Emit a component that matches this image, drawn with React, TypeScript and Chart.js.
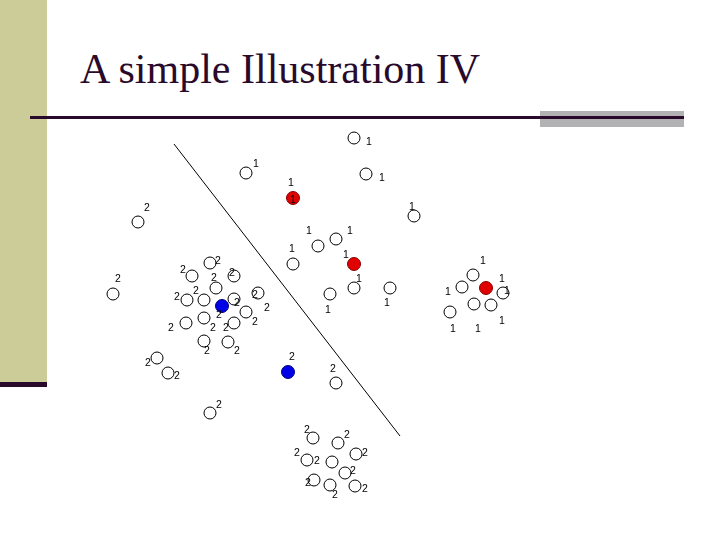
import React, { useEffect, useRef } from "react";
import { Chart, registerables } from "chart.js";

Chart.register(...registerables);

const titleText = "A simple Illustration IV";

// Open circles, class "1"
const class1Points: number[][] = [
  [354, 138], [246, 173], [366, 174], [414, 216], [318, 246], [336, 239],
  [293, 264], [354, 288], [330, 294], [390, 288], [473, 275], [462, 287],
  [503, 293], [474, 304], [491, 305], [450, 312],
];

// Open circles, class "2"
const class2Points: number[][] = [
  [138, 222], [113, 294], [210, 263], [192, 276], [234, 276], [216, 288],
  [187, 300], [204, 300], [234, 299], [258, 293], [246, 312], [186, 323],
  [204, 318], [234, 323], [204, 341], [228, 342], [157, 358], [168, 373],
  [336, 383], [210, 413], [313, 438], [338, 443], [307, 460], [332, 462],
  [356, 454], [345, 473], [314, 480], [330, 485], [355, 486],
];

// Cluster centres
const redCentres: number[][] = [[293, 198], [354, 264], [486, 288]];
const blueCentres: number[][] = [[222, 306], [288, 372]];

// Separating line
const separatorLine: number[][] = [[174, 144], [400, 436]];

// Label positions
const class1Labels: number[][] = [
  [369, 142], [256, 164], [382, 178], [291, 183], [293, 200], [412, 207],
  [309, 231], [350, 231], [292, 249], [346, 255], [359, 279], [328, 310],
  [387, 303], [483, 261], [448, 292], [502, 279], [507, 291], [453, 329],
  [478, 329], [502, 321],
];
const class2Labels: number[][] = [
  [147, 208], [118, 279], [218, 261], [183, 270], [232, 273], [214, 278],
  [177, 297], [196, 291], [237, 303], [255, 295], [267, 308], [219, 315],
  [255, 322], [171, 328], [213, 328], [226, 328], [207, 351], [237, 351],
  [148, 363], [177, 376], [292, 357], [333, 369], [219, 405], [307, 430],
  [347, 435], [297, 453], [317, 461], [365, 453], [353, 471], [308, 483],
  [335, 495], [365, 489],
];

const toXY = (arr: number[][]) => arr.map(([x, y]) => ({ x, y }));

const labelPlugin = {
  id: "pointLabels",
  afterDatasetsDraw(chart: any) {
    const { ctx, scales } = chart;
    const sx = scales.x;
    const sy = scales.y;
    ctx.save();
    ctx.font = "10.5px 'Liberation Sans', Arial, sans-serif";
    ctx.fillStyle = "#000";
    ctx.textAlign = "center";
    ctx.textBaseline = "middle";
    class1Labels.forEach(([lx, ly]) =>
      ctx.fillText("1", sx.getPixelForValue(lx), sy.getPixelForValue(ly))
    );
    class2Labels.forEach(([lx, ly]) =>
      ctx.fillText("2", sx.getPixelForValue(lx), sy.getPixelForValue(ly))
    );
    ctx.restore();
  },
};

export default function App() {
  const canvasRef = useRef<HTMLCanvasElement | null>(null);

  useEffect(() => {
    if (!canvasRef.current) return;
    const openCircle = {
      pointRadius: 6,
      pointHoverRadius: 6,
      pointStyle: "circle",
      backgroundColor: "rgba(255,255,255,0)",
      borderColor: "#000",
      pointBorderWidth: 1,
      showLine: false,
    };
    const chart = new Chart(canvasRef.current, {
      type: "scatter",
      data: {
        datasets: [
          {
            label: "separator",
            data: toXY(separatorLine),
            showLine: true,
            borderColor: "#000",
            borderWidth: 1,
            pointRadius: 0,
            fill: false,
          } as any,
          { label: "class 2", data: toXY(class2Points), ...openCircle } as any,
          { label: "class 1", data: toXY(class1Points), ...openCircle } as any,
          {
            label: "red centres",
            data: toXY(redCentres),
            pointRadius: 6.5,
            backgroundColor: "#E00000",
            borderColor: "#8A0000",
            pointBorderWidth: 1,
          } as any,
          {
            label: "blue centres",
            data: toXY(blueCentres),
            pointRadius: 6.5,
            backgroundColor: "#0000E6",
            borderColor: "#000080",
            pointBorderWidth: 1,
          } as any,
        ],
      },
      options: {
        animation: false,
        responsive: false,
        maintainAspectRatio: false,
        layout: { padding: 0, autoPadding: false },
        plugins: {
          legend: { display: false },
          title: { display: false },
          tooltip: { enabled: false },
        },
        scales: {
          x: { type: "linear", min: 0, max: 720, display: false },
          y: { type: "linear", min: 0, max: 540, reverse: true, display: false },
        },
      } as any,
      plugins: [labelPlugin],
    });
    return () => chart.destroy();
  }, []);

  return (
    <div
      style={{
        position: "absolute",
        left: 0,
        top: 0,
        width: 720,
        height: 540,
        background: "#fff",
        overflow: "hidden",
      }}
    >
      <div style={{ position: "absolute", left: 0, top: 0, width: 47, height: 382, background: "#CCCC99" }} />
      <div style={{ position: "absolute", left: 0, top: 382, width: 47, height: 5, background: "#2A0A2A" }} />
      <div style={{ position: "absolute", left: 540, top: 111, width: 144, height: 16, background: "#B2B2B4" }} />
      <div style={{ position: "absolute", left: 30, top: 116, width: 654, height: 3, background: "#2A0A2A" }} />
      <div
        style={{
          position: "absolute",
          left: 80,
          top: 48,
          fontFamily: "'Liberation Serif', 'Times New Roman', serif",
          fontSize: 42,
          lineHeight: 1,
          color: "#2A0A2A",
          whiteSpace: "nowrap",
        }}
      >
        {titleText}
      </div>
      <canvas
        ref={canvasRef}
        width={720}
        height={540}
        style={{ position: "absolute", left: 0, top: 0, width: 720, height: 540 }}
      />
    </div>
  );
}
